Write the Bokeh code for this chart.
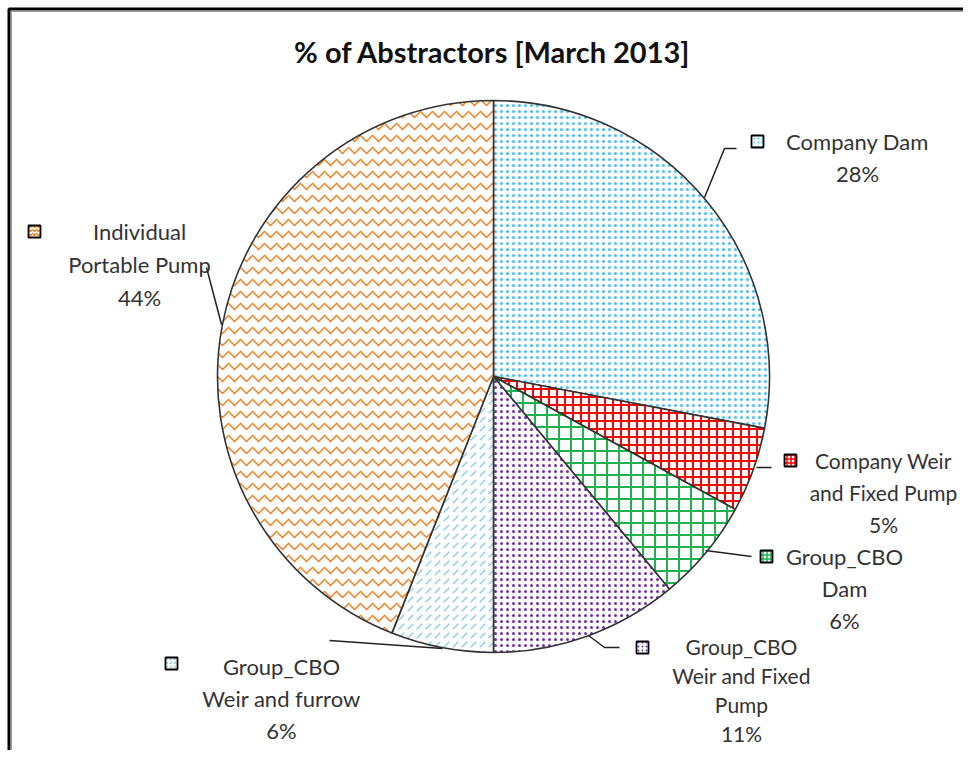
import numpy as np
from bokeh.plotting import figure
from bokeh.models import Range1d
from bokeh.core.properties import value
from bokeh.embed import file_html
from bokeh.resources import INLINE

# ---- data ----
categories = ["Company Dam", "Company Weir and Fixed Pump", "Group_CBO Dam",
              "Group_CBO Weir and Fixed Pump", "Group_CBO Weir and furrow",
              "Individual Portable Pump"]
shares = [28, 5, 6, 11, 6, 44]
label_lines = [["Company Dam"], ["Company Weir", "and Fixed Pump"], ["Group_CBO", "Dam"],
               ["Group_CBO", "Weir and Fixed", "Pump"], ["Group_CBO", "Weir and furrow"],
               ["Individual", "Portable Pump"]]
title_text = "% of Abstractors [March 2013]"

# ---- styles ----
hatch_patterns = ["dot", "cross", "cross", "dot", "right_diagonal_dash", "horizontal_wave"]
hatch_colors = ["#4CC0EC", "#FF0000", "#1FB050", "#7030A0", "#8ECFE6", "#F07F1E"]
hatch_scales = [6, 8, 12, 6, 9, 12]
hatch_weights = [2.0, 2.0, 2.0, 3.5, 1.5, 1.5]

# ---- layout (screen-pixel coordinates; y measured downward, stored negative) ----
W, H = 963, 750
OFF = 1
cx, cy, r = 494, 377, 276
label_pos = [(858, 142), (884, 461), (845, 557), (742, 647), (282, 667), (140, 232)]
line_steps = [32, 32, 32, 29, 32, 33]
marker_pos = [(758, 142), (791, 461), (767, 557), (643, 648), (172, 664), (35, 232)]
leaders = [
    [(705, 198), (725, 149), (737, 149)],
    [(757, 468), (772, 468)],
    [(706, 551), (752, 557)],
    [(589, 636), (605, 648), (620, 648)],
    [(443, 649), (330, 641)],
    [(222, 325), (207, 268)],
]

p = figure(width=W, height=H, output_backend="svg", toolbar_location=None,
           x_range=Range1d(OFF, OFF + W), y_range=Range1d(-(OFF + H), -OFF),
           min_border=0, outline_line_color=None)
p.axis.visible = False
p.grid.visible = False
p.background_fill_color = "white"
p.border_fill_color = "white"

# border (left & top edges of the chart area)
p.line([9.5, 9.5, OFF + W], [-(OFF + H), -9.5, -9.5], line_color="black", line_width=3)
p.line([12, 12, OFF + W], [-(OFF + H), -12, -12], line_color="#9a9a9a", line_width=1)

# pie slices
vals = np.array(shares, dtype=float)
frac = vals / vals.sum()
cum = np.concatenate([[0], np.cumsum(frac)])
starts = np.pi / 2 - 2 * np.pi * cum[:-1]
ends = np.pi / 2 - 2 * np.pi * cum[1:]

for i in range(len(categories)):
    p.wedge(x=cx, y=-cy, radius=r, start_angle=starts[i], end_angle=ends[i],
            direction="clock", fill_color="white", line_color="#333333", line_width=1.6,
            hatch_pattern=hatch_patterns[i], hatch_color=hatch_colors[i],
            hatch_scale=hatch_scales[i], hatch_weight=hatch_weights[i])

# leader lines
for seg in leaders:
    p.line([s[0] for s in seg], [-s[1] for s in seg], line_color="#222222", line_width=1.5)

# legend-key markers
for i, (mx, my) in enumerate(marker_pos):
    p.scatter(x=[mx], y=[-my], marker="square", size=12, fill_color="white",
              line_color="black", line_width=1.8,
              hatch_pattern=hatch_patterns[i], hatch_color=hatch_colors[i],
              hatch_scale=4, hatch_weight=1.5)

# data labels (one text glyph per line)
sizes = ["22px", "21px", "22px", "21px", "22px", "22px"]
for i, (lx, ly) in enumerate(label_pos):
    lines = label_lines[i] + [f"{shares[i]}%"]
    xs = [lx] * len(lines)
    ys = [-(ly + k * line_steps[i]) for k in range(len(lines))]
    p.text(x=xs, y=ys, text=lines, text_align="center", text_baseline="middle",
           text_font=value("Lato"), text_font_size=sizes[i], text_color="#333333")

# title
p.text(x=[493], y=[-52], text=[title_text], text_align="center", text_baseline="middle",
       text_font=value("Lato"), text_font_style="bold", text_font_size="29px",
       text_color="#111111")

open("out.html", "w").write(file_html(p, INLINE))
